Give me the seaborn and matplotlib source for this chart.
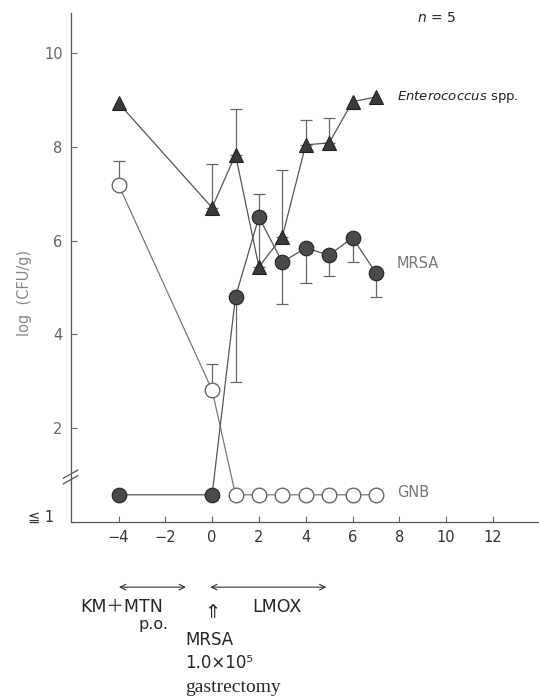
import numpy as np
import pandas as pd
import matplotlib
matplotlib.use("Agg")
import matplotlib.pyplot as plt
import seaborn as sns

# data (log CFU/g; 0.58 = detection limit "<=1")
days = [-4, 0, 1, 2, 3, 4, 5, 6, 7]
entero = [8.93, 6.70, 7.83, 5.44, 6.08, 8.04, 8.08, 8.96, 9.06]
entero_err_up = [0, 0.93, 0.98, 1.55, 1.43, 0.53, 0.53, 0, 0]
mrsa = [0.58, 0.58, 4.80, 6.50, 5.54, 5.84, 5.69, 6.06, 5.31]
mrsa_err_down = [0, 0, 1.81, 0, 0.89, 0.74, 0.44, 0.52, 0.51]
gnb = [7.19, 2.81, 0.58, 0.58, 0.58, 0.58, 0.58, 0.58, 0.58]
gnb_err_up = [0.51, 0.56, 0, 0, 0, 0, 0, 0, 0]

xticks = [-4, -2, 0, 2, 4, 6, 8, 10, 12]
yticks = [2, 4, 6, 8, 10]
break_levels = [0.9, 1.02]

sns.set_style("ticks")
plt.rcParams['font.family'] = ['DejaVu Sans', 'Noto Sans CJK JP']

df = pd.DataFrame({'day': days, 'Enterococcus': entero, 'MRSA': mrsa, 'GNB': gnb})

fig = plt.figure(figsize=(5.39, 6.98), dpi=100)
ax = fig.add_axes([71 / 539, 1 - 522 / 698, (539 - 71) / 539, 509 / 698])

line_c = '#555555'
grey = '#777777'

# error bars (only where an error was drawn)
def draw_err(y, lo, hi):
    y = np.array(y)
    lo = np.array(lo)
    hi = np.array(hi)
    m = (lo > 0) | (hi > 0)
    ax.errorbar(np.array(days)[m], y[m], yerr=[lo[m], hi[m]], fmt='none',
                ecolor='#666666', elinewidth=0.9, capsize=4, capthick=0.9, zorder=1)

draw_err(entero, np.zeros(len(days)), entero_err_up)
draw_err(mrsa, mrsa_err_down, np.zeros(len(days)))
draw_err(gnb, np.zeros(len(days)), gnb_err_up)

sns.lineplot(data=df, x='day', y='GNB', ax=ax, color='#777777', lw=0.9,
             marker='o', markersize=10.5, markerfacecolor='white',
             markeredgecolor='#666666', markeredgewidth=1.0, zorder=2)
sns.lineplot(data=df, x='day', y='Enterococcus', ax=ax, color=line_c, lw=0.9,
             marker='^', markersize=9.5, markerfacecolor='#3a3a3a',
             markeredgecolor='#222222', markeredgewidth=0.8, zorder=3)
sns.lineplot(data=df, x='day', y='MRSA', ax=ax, color=line_c, lw=0.9,
             marker='o', markersize=10.5, markerfacecolor='#4a4a4a',
             markeredgecolor='#222222', markeredgewidth=0.8, zorder=4)

ax.set_xlim(-6.03, 13.97)
ax.set_ylim(0, 10.85)
ax.set_xticks(xticks)
ax.set_xticklabels([str(t).replace('-', '\u2212') for t in xticks])
ax.set_yticks(yticks)
ax.set_yticklabels([str(t) for t in yticks])
ax.tick_params(direction='in', length=4, width=0.8, colors='#666666',
               labelsize=10.5, pad=6)
ax.tick_params(axis='x', labelcolor='#333333')
ax.set_xlabel('')
ax.set_ylabel('')
for s in ['top', 'right']:
    ax.spines[s].set_visible(False)
for s in ['left', 'bottom']:
    ax.spines[s].set_color('#555555')
    ax.spines[s].set_linewidth(0.9)

# axis break marks and detection-limit label
trans = ax.get_yaxis_transform()
for lv in break_levels:
    ax.plot([-0.017, 0.015], [lv - 0.09, lv + 0.09], transform=trans,
            color='#555555', lw=0.9, clip_on=False)
ax.text(-0.035, 0.01, '\u2266 1', transform=ax.transAxes, ha='right', va='center',
        fontsize=10.5, color='#333333')

ax.text(-0.1, 0.45, 'log  (CFU/g)', transform=ax.transAxes, rotation=90,
        ha='center', va='center', fontsize=10.5, color='#888888')

# series labels
ax.text(7.9, 9.05, r'$\it{Enterococcus}$ spp.', fontsize=9.5, color='#222222', va='center')
ax.text(7.9, 5.5, 'MRSA', fontsize=10.5, color=grey, va='center')
ax.text(7.9, 0.62, 'GNB', fontsize=10.5, color=grey, va='center')
ax.text(9.6, 10.75, '$n$ = 5', fontsize=10, color='#222222', va='center', ha='center')

# treatment annotations below the axis
arrow = dict(arrowstyle='<->', color='#333333', lw=0.8)
ax.annotate('', xy=(-4.1, -0.128), xytext=(-1.0, -0.128),
            xycoords=('data', 'axes fraction'), textcoords=('data', 'axes fraction'),
            arrowprops=arrow, annotation_clip=False)
ax.annotate('', xy=(-0.2, -0.128), xytext=(5.0, -0.128),
            xycoords=('data', 'axes fraction'), textcoords=('data', 'axes fraction'),
            arrowprops=arrow, annotation_clip=False)

fig.text(80 / 539, 1 - 607 / 698, 'KM\uff0bMTN', fontsize=12.5, va='center', ha='left')
fig.text(153 / 539, 1 - 624 / 698, 'p.o.', fontsize=11.5, va='center', ha='center')
fig.text(212 / 539, 1 - 612 / 698, '\u21d1', fontsize=14, va='center', ha='center')
fig.text(277 / 539, 1 - 607 / 698, 'LMOX', fontsize=12.5, va='center', ha='center')
fig.text(185 / 539, 1 - 640 / 698, 'MRSA', fontsize=12, va='center', ha='left')
fig.text(185 / 539, 1 - 663 / 698, '1.0\u00d710\u2075', fontsize=12, va='center', ha='left')
fig.text(185 / 539, 1 - 688 / 698, 'gastrectomy', fontsize=14, va='center', ha='left',
         family='Liberation Serif')

plt.savefig('out.png', dpi=100)
plt.close()
